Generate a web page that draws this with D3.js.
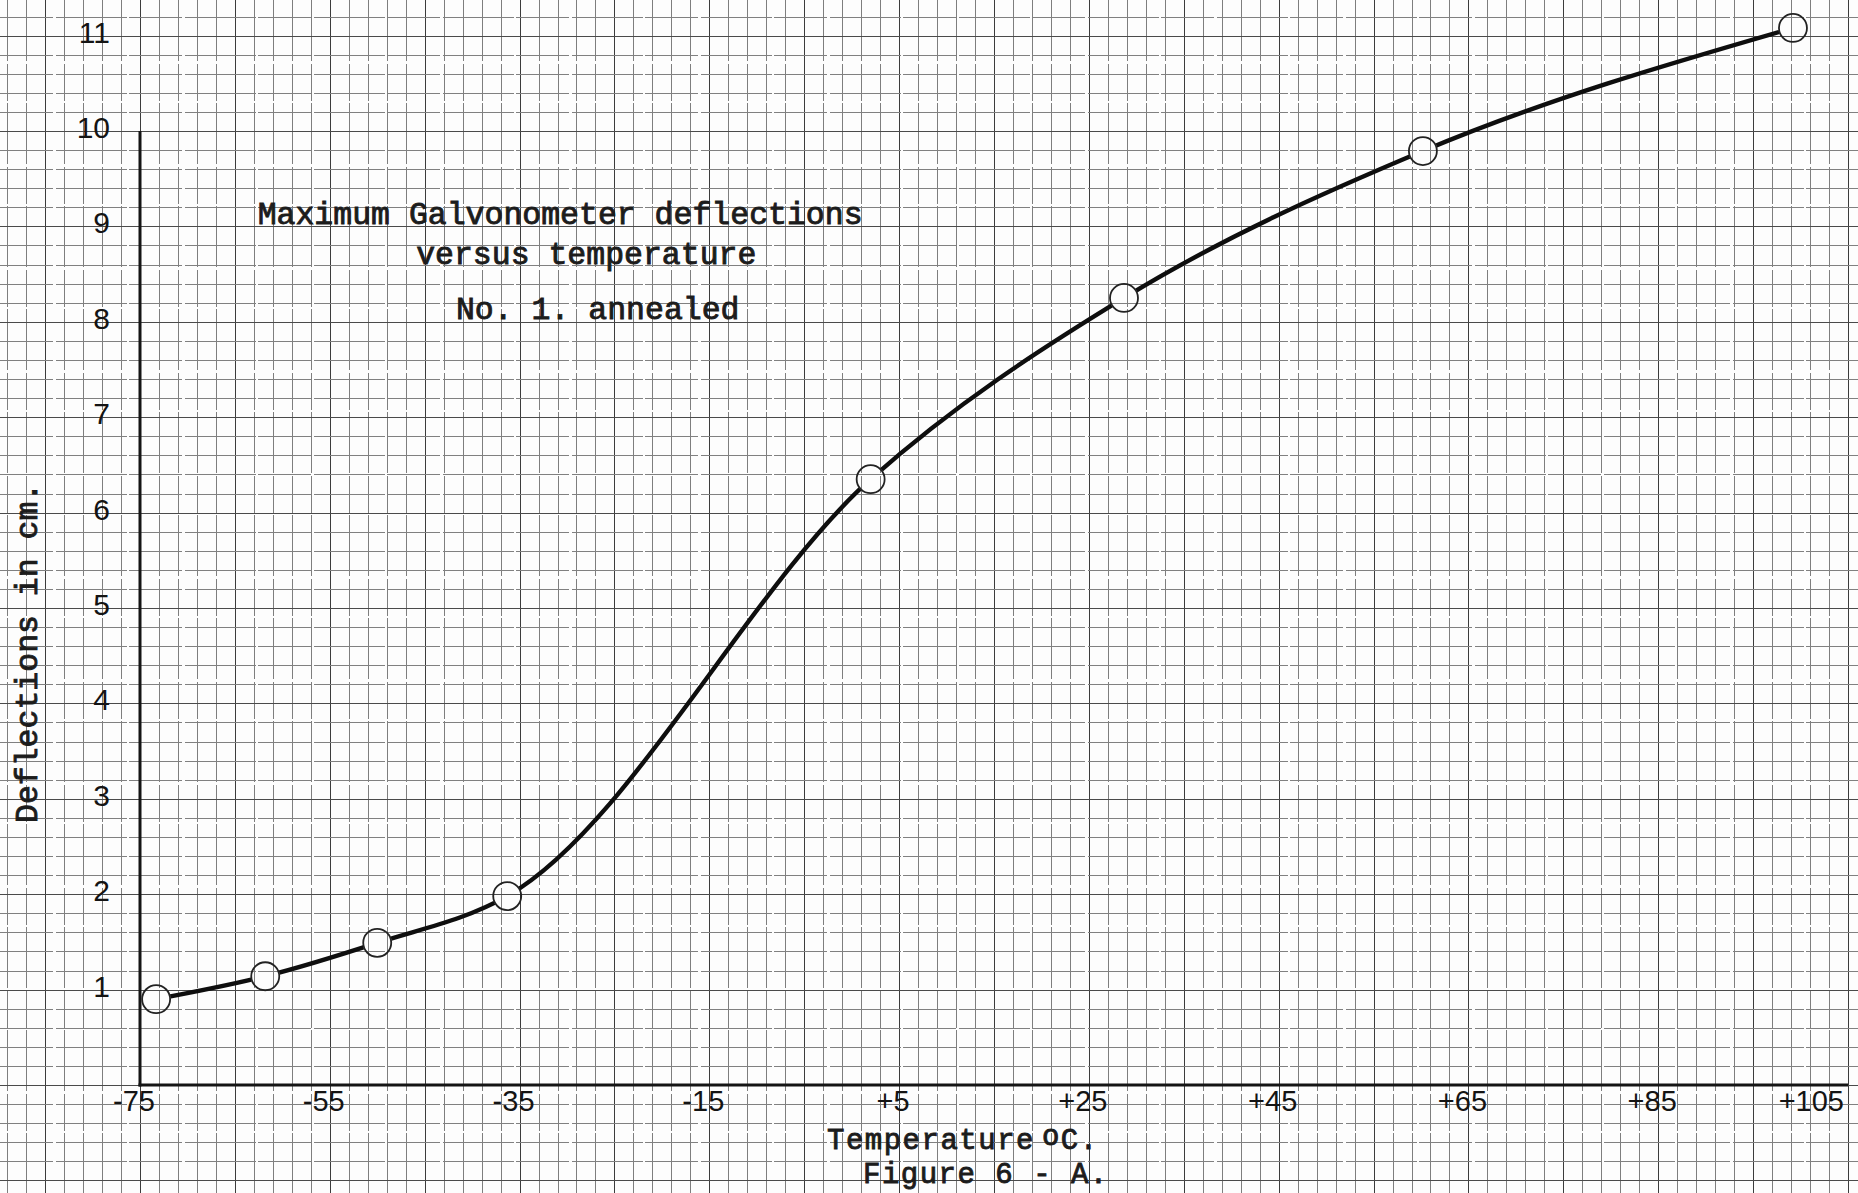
<!DOCTYPE html>
<html>
<head>
<meta charset="utf-8">
<script src="https://cdn.jsdelivr.net/npm/d3@7"></script>
<style>
  html, body { margin: 0; padding: 0; background: #fff; }
  svg { display: block; }
</style>
</head>
<body>
<script>
// Measured galvanometer deflections (cm) at each test temperature (°C)
const temperatures = [-73.3, -61.8, -50.0, -36.3, 2.0, 28.7, 60.2, 99.2];
const deflections  = [0.90, 1.14, 1.49, 1.98, 6.35, 8.25, 9.79, 11.08];

// Axis ticks
const xTickValues = [-75, -55, -35, -15, 5, 25, 45, 65, 85, 105];
const xTickLabels = ["-75", "-55", "-35", "-15", "+5", "+25", "+45", "+65", "+85", "+105"];
const yTickValues = [1, 2, 3, 4, 5, 6, 7, 8, 9, 10, 11];
const yTickLabels = ["1", "2", "3", "4", "5", "6", "7", "8", "9", "10", "11"];

// Typed annotations
const titleLines = ["Maximum Galvonometer deflections", "versus temperature", "No. 1. annealed"];
const xAxisTitle = "Temperature";
const figureCaption = "Figure 6 - A.";
const yAxisTitle = "Deflections in cm.";

const W = 1858, H = 1193;
const svg = d3.select("body").append("svg").attr("width", W).attr("height", H);
svg.append("rect").attr("width", W).attr("height", H).attr("fill", "#fdfdfd");

const x = d3.scaleLinear().domain([-75, 105]).range([140, 1848]);
const y = d3.scaleLinear().domain([0, 10]).range([1085, 131]);

// ---- graph paper: 2 °C / 0.2 cm cells, heavier rule every 5 cells ----
const paper = svg.append("g").attr("shape-rendering", "crispEdges");
const vCells = d3.range(-89, 113, 2);
paper.selectAll("line.v").data(vCells).join("line")
  .attr("x1", d => Math.round(x(d)) + 0.5).attr("x2", d => Math.round(x(d)) + 0.5)
  .attr("y1", 0).attr("y2", H)
  .attr("stroke", d => ((d + 75) % 10 === 0) ? "#3c3c3c" : "#7e7e7e")
  .attr("stroke-width", d => ((d + 75) % 10 === 0) ? 1.6 : 1.1)
  .attr("stroke-dasharray", d => ((d + 75) % 10 === 0) ? null : "61 3 37 2");
const hCells = d3.range(-12, 58);
paper.selectAll("line.h").data(hCells).join("line")
  .attr("y1", d => Math.round(y(d * 0.2)) + 0.5).attr("y2", d => Math.round(y(d * 0.2)) + 0.5)
  .attr("x1", 0).attr("x2", W)
  .attr("stroke", d => (d % 5 === 0) ? "#4a4a4a" : "#808080")
  .attr("stroke-width", d => (d % 5 === 0) ? 1.5 : 1.1)
  .attr("stroke-dasharray", d => (d % 5 === 0) ? null : "53 3 71 2");

// ---- axes ----
const ink = "#141414";
svg.append("line")
  .attr("x1", x(-75)).attr("x2", x(-75)).attr("y1", y(0) + 1.5).attr("y2", y(10))
  .attr("stroke", ink).attr("stroke-width", 3);
svg.append("line")
  .attr("x1", x(-75) - 1.5).attr("x2", x(105)).attr("y1", y(0)).attr("y2", y(0))
  .attr("stroke", ink).attr("stroke-width", 3);

const tickFont = "'Liberation Sans', Arial, sans-serif";
svg.append("g").selectAll("text").data(yTickValues).join("text")
  .attr("x", x(-75) - 30).attr("y", d => y(d) + 7)
  .attr("text-anchor", "end")
  .attr("font-family", tickFont).attr("font-size", 30)
  .attr("fill", ink)
  .text((d, i) => yTickLabels[i]);

svg.append("g").selectAll("text").data(xTickValues).join("text")
  .attr("x", (d, i) => i === xTickValues.length - 1 ? x(d) - 4 : x(d) - 6)
  .attr("y", y(0) + 26)
  .attr("text-anchor", (d, i) => i === xTickValues.length - 1 ? "end" : "middle")
  .attr("font-family", tickFont).attr("font-size", 29)
  .attr("fill", ink)
  .text((d, i) => xTickLabels[i]);

// ---- typed text ----
const typeFont = "'Liberation Mono', 'Courier New', monospace";
function typed(sel, size) {
  return sel.attr("font-family", typeFont).attr("font-size", size || 31.5)
    .attr("fill", "#1c1c1c").attr("stroke", "#1c1c1c").attr("stroke-width", 0.9);
}
const titleAnchors = [[-62.6, 9.03], [-45.9, 8.61], [-41.7, 8.03]];
titleLines.forEach((t, i) => {
  typed(svg.append("text"))
    .attr("x", x(titleAnchors[i][0])).attr("y", y(titleAnchors[i][1]))
    .text(t);
});

const xt = typed(svg.append("text"), 29).attr("letter-spacing", 1.5)
  .attr("x", 827).attr("y", 1149);
xt.append("tspan").text(xAxisTitle);
xt.append("tspan").attr("dx", 7).attr("dy", -4).text("o");
xt.append("tspan").attr("dx", 0).attr("dy", 4).text("C.");

typed(svg.append("text"), 29).attr("letter-spacing", 1.5)
  .attr("x", 863).attr("y", 1183).text(figureCaption);

typed(svg.append("text"))
  .attr("transform", "translate(37,823) rotate(-90)")
  .text(yAxisTitle);

// ---- data curve, broken where it meets each plotted circle ----
const pts = temperatures.map((t, i) => ({ t, v: deflections[i] }));
const R = 14;
const defs = svg.append("defs");
const mask = defs.append("mask").attr("id", "ringCut").attr("maskUnits", "userSpaceOnUse")
  .attr("x", 0).attr("y", 0).attr("width", W).attr("height", H);
mask.append("rect").attr("width", W).attr("height", H).attr("fill", "#fff");
mask.selectAll("circle").data(pts).join("circle")
  .attr("cx", d => x(d.t)).attr("cy", d => y(d.v)).attr("r", R + 0.5).attr("fill", "#000");

const line = d3.line().x(d => x(d.t)).y(d => y(d.v)).curve(d3.curveMonotoneX);
svg.append("path").datum(pts)
  .attr("d", line)
  .attr("fill", "none").attr("stroke", "#0e0e0e").attr("stroke-width", 4.4)
  .attr("stroke-linecap", "round")
  .attr("mask", "url(#ringCut)");

svg.append("g").selectAll("circle").data(pts).join("circle")
  .attr("cx", d => x(d.t)).attr("cy", d => y(d.v)).attr("r", R)
  .attr("fill", "none").attr("stroke", "#222").attr("stroke-width", 1.8);
</script>
</body>
</html>
